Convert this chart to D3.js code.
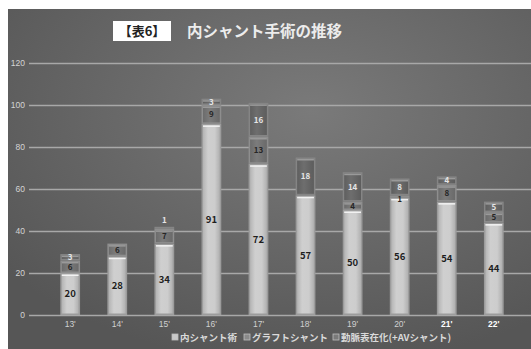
<!DOCTYPE html>
<html>
<head>
<meta charset="utf-8">
<script src="https://cdn.jsdelivr.net/npm/d3@7"></script>
<style>
  html, body { margin: 0; padding: 0; background: #fff; }
  svg { display: block; font-family: "Noto Sans CJK JP", "Noto Sans", sans-serif; }
</style>
</head>
<body>
<svg id="chart" width="531" height="349"></svg>
<script>
// Annual counts of shunt procedures, by type
const years = ["13'", "14'", "15'", "16'", "17'", "18'", "19'", "20'", "21'", "22'"];
const shunt = [20, 28, 34, 91, 72, 57, 50, 56, 54, 44];          // 内シャント術
const graft = [6, 6, 7, 9, 13, 0, 4, 1, 8, 5];                   // グラフトシャント
const arterial = [3, 0, 1, 3, 16, 18, 14, 8, 4, 5];              // 動脈表在化(+AVシャント)
const seriesNames = ["内シャント術", "グラフトシャント", "動脈表在化(+AVシャント)"];
const yTicks = [0, 20, 40, 60, 80, 100, 120];
const highlightedYears = ["21'", "22'"];

const svg = d3.select("#chart");
const W = 531, H = 349;

// panel background
const defs = svg.append("defs");
const bg = defs.append("radialGradient").attr("id", "bg")
  .attr("cx", "58%").attr("cy", "30%").attr("r", "75%");
bg.append("stop").attr("offset", "0%").attr("stop-color", "#7a7a7a");
bg.append("stop").attr("offset", "100%").attr("stop-color", "#565656");

const gMain = defs.append("linearGradient").attr("id", "gMain").attr("x1", 0).attr("x2", 1).attr("y1", 0).attr("y2", 0);
[["0%", "#b4b4b4"], ["30%", "#cfcfcf"], ["70%", "#cdcdcd"], ["100%", "#b0b0b0"]]
  .forEach(([o, c]) => gMain.append("stop").attr("offset", o).attr("stop-color", c));
const gGraft = defs.append("linearGradient").attr("id", "gGraft").attr("x1", 0).attr("x2", 1).attr("y1", 0).attr("y2", 0);
[["0%", "#6c6c6c"], ["40%", "#7c7c7c"], ["100%", "#6a6a6a"]]
  .forEach(([o, c]) => gGraft.append("stop").attr("offset", o).attr("stop-color", c));
const gArt = defs.append("linearGradient").attr("id", "gArt").attr("x1", 0).attr("x2", 1).attr("y1", 0).attr("y2", 0);
[["0%", "#5f5f5f"], ["40%", "#6e6e6e"], ["100%", "#5d5d5d"]]
  .forEach(([o, c]) => gArt.append("stop").attr("offset", o).attr("stop-color", c));

svg.append("rect").attr("x", 8).attr("y", 9).attr("width", W - 8).attr("height", H - 9).attr("fill", "url(#bg)");

// title
svg.append("rect").attr("x", 113).attr("y", 21).attr("width", 58).attr("height", 20).attr("fill", "#ffffff");
svg.append("text").attr("x", 142).attr("y", 36).attr("text-anchor", "middle")
  .attr("font-size", 13).attr("font-weight", "bold").attr("fill", "#222").text("【表6】");
svg.append("text").attr("x", 187).attr("y", 37)
  .attr("font-size", 15.5).attr("font-weight", "bold").attr("fill", "#ececec").text("内シャント手術の推移");

// scales
const x = d3.scaleBand().domain(years).range([33, 531]).padding(0.58);
const y = d3.scaleLinear().domain([0, 120]).range([315, 63]);

// y grid + labels
const yAxis = d3.axisLeft(y).tickValues(yTicks).tickSize(-(531 - 29)).tickPadding(4);
const ga = svg.append("g").attr("transform", "translate(29,0)").call(yAxis);
ga.select(".domain").remove();
ga.selectAll(".tick line").attr("stroke", "#a8a8a8").attr("stroke-width", 1.3);
ga.selectAll(".tick text").attr("fill", "#d4d4d4").attr("font-size", 8.5);

// x labels
const xAxis = d3.axisBottom(x).tickSize(0).tickPadding(6);
const gx = svg.append("g").attr("transform", "translate(0,315)").call(xAxis);
gx.select(".domain").remove();
gx.selectAll(".tick text")
  .attr("font-size", 8.5)
  .attr("fill", d => highlightedYears.includes(d) ? "#ffffff" : "#d0d0d0")
  .attr("font-weight", d => highlightedYears.includes(d) ? "bold" : "normal");

// stacked bars
const rows = years.map((yr, i) => ({ year: yr, shunt: shunt[i], graft: graft[i], arterial: arterial[i] }));
const keys = ["shunt", "graft", "arterial"];
const stack = d3.stack().keys(keys)(rows);
const fills = { shunt: "url(#gMain)", graft: "url(#gGraft)", arterial: "url(#gArt)" };
const edges = { shunt: "#9c9c9c", graft: "#8e8e8e", arterial: "#858585" };
const labelColors = { shunt: "#1e1e1e", graft: "#262626", arterial: "#e6e6e6" };
const labelSizes = { shunt: 9.5, graft: 8, arterial: 8 };

const bw = x.bandwidth();
stack.forEach(layer => {
  const key = layer.key;
  const g = svg.append("g");
  layer.forEach(d => {
    const v = d[1] - d[0];
    if (v <= 0) return;
    const x0 = x(d.data.year);
    const yTop = y(d[1]), yBot = y(d[0]);
    const h = yBot - yTop;
    g.append("rect").attr("x", x0).attr("y", yTop).attr("width", bw).attr("height", h)
      .attr("fill", edges[key]);
    const inset = 1.5;
    if (h > 2 * inset) {
      g.append("rect").attr("x", x0 + inset).attr("y", yTop + inset)
        .attr("width", bw - 2 * inset).attr("height", h - 2 * inset)
        .attr("fill", fills[key]);
      // top highlight
      g.append("rect").attr("x", x0 + inset).attr("y", yTop + inset)
        .attr("width", bw - 2 * inset).attr("height", Math.min(1.5, h - 2 * inset))
        .attr("fill", key === "shunt" ? "#f2f2f2" : "#9a9a9a");
    }
  });
});

// value labels
stack.forEach(layer => {
  const key = layer.key;
  layer.forEach((d, i) => {
    const v = d[1] - d[0];
    if (v <= 0) return;
    const cx = x(d.data.year) + bw / 2;
    const h = y(d[0]) - y(d[1]);
    const isTop = d[1] === (shunt[i] + graft[i] + arterial[i]);
    let fs = labelSizes[key];
    let ty = (y(d[0]) + y(d[1])) / 2 + fs * 0.36;
    let col = labelColors[key];
    if (h < 4 && isTop) { ty = y(d[1]) - 4; col = "#e6e6e6"; }
    else if (h < 4) { ty = y(d[0]) + fs * 0.55; fs = 7.5; }
    svg.append("text").attr("x", cx).attr("y", ty).attr("text-anchor", "middle")
      .attr("font-size", fs).attr("font-weight", "bold").attr("fill", col).text(v);
  });
});

// legend
const legendX = [172, 244, 333];
const lg = svg.append("g");
seriesNames.forEach((name, i) => {
  lg.append("rect").attr("x", legendX[i]).attr("y", 334).attr("width", 6).attr("height", 6)
    .attr("fill", i === 0 ? "#c8c8c8" : (i === 1 ? "#8a8a8a" : "#7a7a7a")).attr("stroke", "#bdbdbd").attr("stroke-width", 0.8);
  lg.append("text").attr("x", legendX[i] + 8).attr("y", 341)
    .attr("font-size", 9.5).attr("font-weight", "bold").attr("fill", "#dadada").text(name);
});
</script>
</body>
</html>
